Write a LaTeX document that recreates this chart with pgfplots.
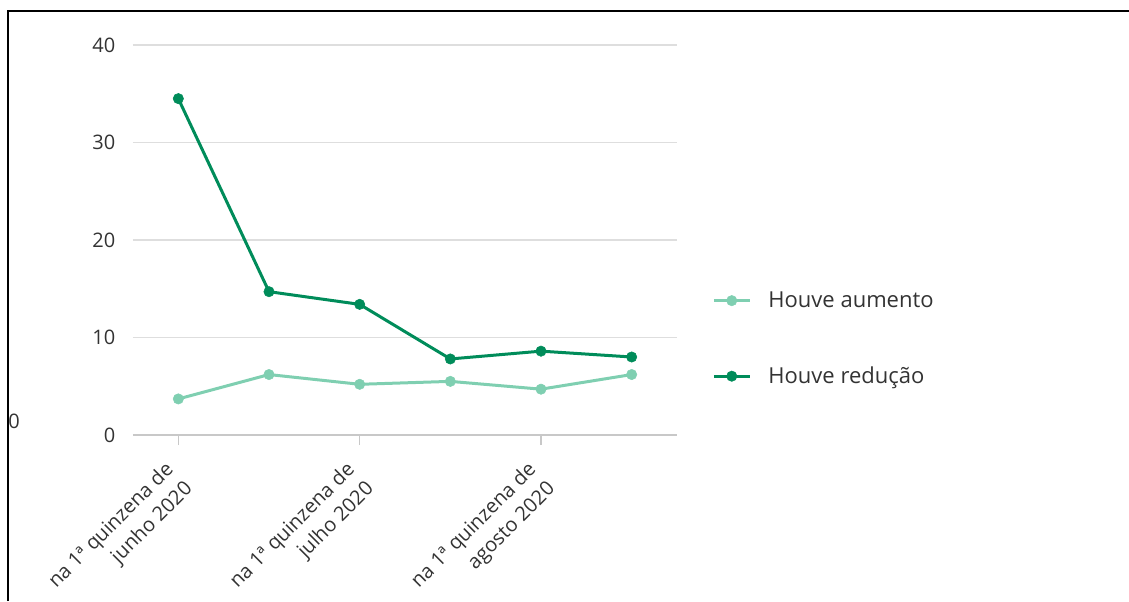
\documentclass[border=0pt]{standalone}
\usepackage{fontspec}
\setmainfont{Open Sans}
\usepackage{pgfplots}
\pgfplotsset{compat=1.18}
\definecolor{dk}{HTML}{008C5A}
\definecolor{lt}{HTML}{7FCFB1}
\definecolor{txt}{HTML}{333333}
\definecolor{gridc}{HTML}{DEDEDE}
\definecolor{axc}{HTML}{C8C8C8}
\newlength\px \setlength\px{0.75pt}
\begin{document}
\begin{tikzpicture}
\path[use as bounding box] (0,0) rectangle (1129\px,601\px);
\draw[line width=2\px] (8\px,0) -- (8\px,590\px) -- (1129\px,590\px);
\begin{scope}
\clip (9\px,0) rectangle (60\px,601\px);
\node[font=\fontsize{15}{18}\selectfont, text=txt, anchor=east, inner sep=0] at (20\px,180\px) {0};
\end{scope}
\begin{axis}[
  at={(133\px,166\px)}, anchor=south west,
  scale only axis, width=544\px, height=390\px,
  xmin=-0.5, xmax=5.5, ymin=0, ymax=40,
  axis x line=bottom, axis y line=left,
  x axis line style={-, draw=axc, line width=2\px},
  y axis line style={-, draw=none},
  ytick={0,10,20,30,40},
  xtick={0,2,4},
  xticklabels={{na 1ª quinzena de\\junho 2020},{na 1ª quinzena de\\julho 2020},{na 1ª quinzena de\\agosto 2020}},
  /pgf/number format/assume math mode=true,
  ymajorgrids, grid style={gridc, line width=1.5\px},
  xtick align=outside, major tick length=10\px,
  x tick style={draw=axc, line width=1.5\px},
  y tick style={draw=none},
  tick label style={text=txt},
  yticklabel style={font=\fontsize{15}{18}\selectfont, xshift=-8\px},
  xticklabel style={font=\fontsize{15}{20}\selectfont, rotate=45, anchor=north east, align=right, inner sep=2\px, xshift=-19\px, yshift=2\px},
  legend style={at={(1.057,0.247)}, anchor=west, draw=none, fill=none,
    font=\fontsize{16.5}{20}\selectfont, text=txt, row sep=39pt},
  legend cell align=left,
  legend image code/.code={\draw[mark repeat=2,mark phase=2,#1] plot coordinates {(0,0) (18\px,0) (36\px,0)}; \path[draw=none] (0,0) -- (52\px,0);},
  every axis plot/.append style={line width=3\px, mark=*, mark size=5.2\px},
]
\addplot[lt, mark options={fill=lt, draw=lt, line width=0.5\px}] coordinates {(0,3.7) (1,6.2) (2,5.2) (3,5.5) (4,4.7) (5,6.2)};
\addlegendentry{Houve aumento}
\addplot[dk, mark options={fill=dk, draw=dk, line width=0.5\px}] coordinates {(0,34.5) (1,14.7) (2,13.4) (3,7.8) (4,8.6) (5,8.0)};
\addlegendentry{Houve redução}
\end{axis}
\end{tikzpicture}
\end{document}
